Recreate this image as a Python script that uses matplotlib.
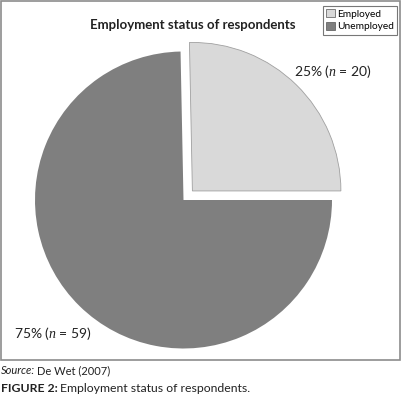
import matplotlib
matplotlib.use("Agg")
import matplotlib.pyplot as plt
from matplotlib.patches import Rectangle, Patch

categories = ["Employed", "Unemployed"]
counts = [20, 59]
percents = [25, 75]
colors = ["#d9d9d9", "#7f7f7f"]

plt.rcParams['font.family'] = ['Lato', 'DejaVu Sans']
plt.rcParams['mathtext.fontset'] = 'custom'
plt.rcParams['mathtext.it'] = 'Liberation Serif:italic'
plt.rcParams['mathtext.rm'] = 'Lato'

W, H = 403, 399
fig = plt.figure(figsize=(W / 100, H / 100), dpi=100)
ax = fig.add_axes([0, 0, 1, 1])

# chart frame
ax.add_patch(Rectangle((1, 39), 399, 359, fill=False, edgecolor="#8c8c8c", lw=1.2))

# explode is in data units (pixels here)
wedges, _ = ax.pie(counts, colors=colors, startangle=0, counterclock=True,
                   center=(183.5, 199), radius=148.5, explode=[12.7, 0],
                   wedgeprops=dict(edgecolor="none"), frame=True)
wedges[0].set_edgecolor("#a0a0a0")
wedges[0].set_linewidth(0.6)
ax.set_xlim(0, W)
ax.set_ylim(0, H)
ax.set_aspect("equal")
ax.axis("off")

ax.text(193, H - 25, "Employment status of respondents", ha="center", va="center",
        fontsize=9.5, fontweight="bold", color="#222222")

ax.text(333, H - 72, f"{percents[0]}% ($n$ = {counts[0]})", ha="center", va="center",
        fontsize=10, color="#222222")
ax.text(53, H - 333, f"{percents[1]}% ($n$ = {counts[1]})", ha="center", va="center",
        fontsize=10, color="#222222")

handles = [Patch(facecolor=c, edgecolor="#555555", lw=0.5) for c in colors]
leg = ax.legend(handles, categories, loc="upper right", bbox_to_anchor=(397 / W, 1 - 6 / H),
                fontsize=7.3, frameon=True, fancybox=False, borderpad=0.3,
                handlelength=0.9, handleheight=0.9, handletextpad=0.2,
                labelspacing=0.3, borderaxespad=0)
leg.get_frame().set_edgecolor("#555555")
leg.get_frame().set_linewidth(0.8)

# caption lines
fig.canvas.draw()
r = fig.canvas.get_renderer()
inv = ax.transData.inverted()

t1 = ax.text(1, H - 371, "Source:", ha="left", va="center", fontsize=8, style="italic", color="#222222")
x_end = inv.transform(t1.get_window_extent(r))[1][0]
ax.text(x_end + 1.5, H - 371, "De Wet (2007)", ha="left", va="center", fontsize=8, color="#222222")

t2 = ax.text(1, H - 389, "FIGURE 2:", ha="left", va="center", fontsize=8.8, fontweight="bold", color="#222222")
x_end = inv.transform(t2.get_window_extent(r))[1][0]
ax.text(x_end + 2, H - 389, "Employment status of respondents.", ha="left", va="center",
        fontsize=8.8, color="#222222")

fig.savefig("out.png", dpi=100, facecolor="white")
